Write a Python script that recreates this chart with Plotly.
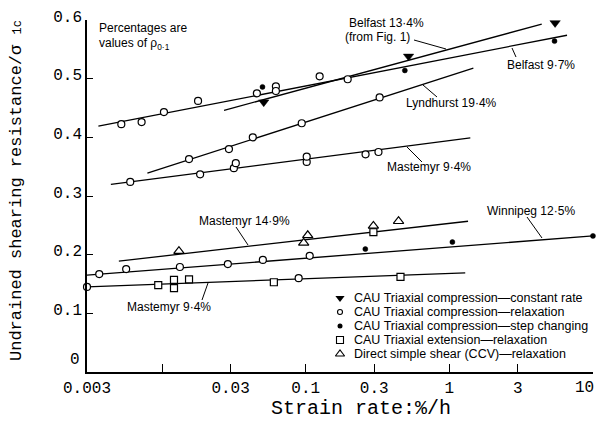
import plotly.graph_objects as go

# ---------------- data ----------------
# fitted lines: start/end strain rate (%/h) and resistance ratio
line_names = ["Belfast 9·7%", "Belfast 13·4%", "Lyndhurst 19·4%", "Mastemyr 9·4% (upper)",
              "Mastemyr 14·9%", "Winnipeg 12·5%", "Mastemyr 9·4% (lower)"]
line_x0 = [0.0036, 0.027, 0.0079, 0.0044, 0.0050, 0.003, 0.003]
line_y0 = [0.419, 0.446, 0.339, 0.320, 0.189, 0.165, 0.145]
line_x1 = [6.6, 4.4, 1.47, 1.40, 1.35, 10.0, 1.29]
line_y1 = [0.574, 0.593, 0.518, 0.399, 0.257, 0.232, 0.169]

# CAU triaxial compression - constant rate
tc_const_x = [0.051, 0.52, 5.45]
tc_const_y = [0.460, 0.538, 0.595]

# CAU triaxial compression - relaxation
tc_relax_x = [0.0052, 0.0072, 0.0103, 0.0178, 0.0457, 0.062, 0.062, 0.125, 0.196,
              0.0154, 0.0292, 0.0428, 0.0938, 0.327,
              0.0060, 0.0184, 0.0316, 0.0326, 0.1016, 0.1016, 0.261, 0.321,
              0.00365, 0.00562, 0.0133, 0.0287, 0.0503, 0.1066,
              0.003, 0.0893]
tc_relax_y = [0.4225, 0.426, 0.443, 0.462, 0.475, 0.487, 0.479, 0.504, 0.499,
              0.363, 0.380, 0.400, 0.424, 0.468,
              0.324, 0.337, 0.3475, 0.356, 0.358, 0.367, 0.371, 0.375,
              0.167, 0.1755, 0.179, 0.184, 0.191, 0.198,
              0.145, 0.160]

# CAU triaxial compression - step changing
tc_step_x = [0.050, 0.49, 5.4, 0.26, 1.05, 10.0]
tc_step_y = [0.486, 0.514, 0.564, 0.2095, 0.2215, 0.232]

# CAU triaxial extension - relaxation
te_relax_x = [0.0094, 0.0121, 0.0121, 0.0154, 0.060, 0.296, 0.457]
te_relax_y = [0.148, 0.157, 0.143, 0.158, 0.153, 0.2385, 0.162]

# Direct simple shear (CCV) - relaxation
dss_x = [0.0131, 0.0968, 0.1033, 0.296, 0.443]
dss_y = [0.206, 0.220, 0.233, 0.249, 0.257]

x_tick_vals = [0.003, 0.03, 0.1, 0.3, 1, 3]
x_tick_text = ["0.003", "0.03", "0.1", "0.3", "1", "3"]
x_minor_vals = [0.01, 10]
x_end_label = "10"
y_tick_vals = [0.1, 0.2, 0.3, 0.4, 0.5, 0.6]
y_tick_text = ["0.1", "0.2", "0.3", "0.4", "0.5", "0.6"]
y_zero_label = "0"

legend_labels = ["CAU Triaxial compression—constant rate",
                 "CAU Triaxial compression—relaxation",
                 "CAU Triaxial compression—step changing",
                 "CAU Triaxial extension—relaxation",
                 "Direct simple shear (CCV)—relaxation"]

# ---------------- layout helpers ----------------
W, H = 596, 422
L, R, T, B = 87, 3, 20, 50
PW, PH = W - L - R, H - T - B
def px(xp): return (xp - L) / PW
def py(yp): return (H - B - yp) / PH

SANS = "Liberation Sans, Arial, sans-serif"
MONO = "Liberation Mono, DejaVu Sans Mono, monospace"

fig = go.Figure()

for i in range(len(line_names)):
    fig.add_trace(go.Scatter(x=[line_x0[i], line_x1[i]], y=[line_y0[i], line_y1[i]],
                             mode="lines", line=dict(color="black", width=1.3),
                             showlegend=False, hoverinfo="skip", cliponaxis=False))

mk = dict(
    const=dict(symbol="triangle-down", size=9, color="black", line=dict(color="black", width=0.5)),
    relax=dict(symbol="circle", size=7, color="white", line=dict(color="black", width=1.2)),
    step=dict(symbol="circle", size=5, color="black", line=dict(color="black", width=0.5)),
    ext=dict(symbol="square", size=7, color="white", line=dict(color="black", width=1.2)),
    dss=dict(symbol="triangle-up", size=9, color="white", line=dict(color="black", width=1.2)),
)
for (xs, ys, m) in [(te_relax_x, te_relax_y, mk["ext"]), (dss_x, dss_y, mk["dss"]),
                    (tc_relax_x, tc_relax_y, mk["relax"]), (tc_const_x, tc_const_y, mk["const"]),
                    (tc_step_x, tc_step_y, mk["step"])]:
    fig.add_trace(go.Scatter(x=xs, y=ys, mode="markers", marker=m, cliponaxis=False,
                             showlegend=False))

# manual legend (symbols on an overlay axis in paper-like units)
leg_rows = [298, 312, 326, 340, 354]
leg_markers = [
    dict(symbol="triangle-down", size=8, color="black"),
    dict(symbol="circle", size=5, color="white", line=dict(color="black", width=1.1)),
    dict(symbol="circle", size=5, color="black"),
    dict(symbol="square", size=7, color="white", line=dict(color="black", width=1.1)),
    dict(symbol="triangle-up", size=8, color="white", line=dict(color="black", width=1.1)),
]
for r, m, lab in zip(leg_rows, leg_markers, legend_labels):
    fig.add_trace(go.Scatter(x=[px(340)], y=[py(r)], xaxis="x2", yaxis="y2", mode="markers",
                             marker=m, cliponaxis=False, showlegend=False, name=lab))

ann = []
def text(t, xl, yc, size=12, anchor="left", font=SANS, angle=0):
    ann.append(dict(text=t, x=px(xl), y=py(yc), xref="paper", yref="paper",
                    xanchor=anchor, yanchor="middle", showarrow=False, textangle=angle,
                    font=dict(family=font, size=size, color="black")))

text("Percentages are", 97, 28)
text("values of ρ<sub>0·1</sub>", 97, 44)
text("Belfast 13·4%", 347, 23)
text("(from Fig. 1)", 343, 37)
text("Belfast 9·7%", 505, 65)
text("Lyndhurst 19·4%", 404, 103)
text("Mastemyr 9·4%", 385, 167)
text("Mastemyr 14·9%", 197, 221)
text("Mastemyr 9·4%", 125, 307)
text("Winnipeg 12·5%", 485, 211)
for r, lab in zip(leg_rows, legend_labels):
    text(lab, 352, r, size=12.5)
text("Undrained shearing resistance/σ <span style='font-size:12px'>1c</span>", 16, 191,
     size=17, anchor="center", font=MONO, angle=-90)
text("Strain rate:%/h", 361, 408, size=20, anchor="center", font=MONO)
text(y_zero_label, 82, 360, size=16, anchor="right", font=MONO)
text(x_end_label, 596, 388, size=16, anchor="right", font=MONO)

leaders = [((414, 40), (446, 49)), ((512, 48), (516, 57)), ((423, 85), (437, 97)),
           ((407, 147), (422, 162)), ((236, 227), (248, 245)), ((208, 283), (202, 300)),
           ((527, 217), (542, 238))]
shapes = [dict(type="line", xref="paper", yref="paper", x0=px(a[0]), y0=py(a[1]),
               x1=px(b[0]), y1=py(b[1]), line=dict(color="black", width=1))
          for a, b in leaders]

fig.update_layout(
    template="none", width=W, height=H,
    margin=dict(l=L, r=R, t=T, b=B, autoexpand=False),
    paper_bgcolor="white", plot_bgcolor="white",
    showlegend=False, annotations=ann, shapes=shapes,
    xaxis=dict(type="log", range=[-2.5229, 1.0003], tickvals=x_tick_vals, ticktext=x_tick_text,
               ticks="inside", ticklen=8, tickwidth=1.2, tickcolor="black",
               minor=dict(tickvals=x_minor_vals, ticks="inside", ticklen=8, tickwidth=1.2,
                          tickcolor="black", showgrid=False),
               showline=True, linecolor="black", linewidth=1.5, showgrid=False,
               zeroline=False, mirror=False, automargin=False, ticklabeloverflow="allow",
               tickfont=dict(family=MONO, size=16, color="black")),
    yaxis=dict(range=[0, 0.6], tickvals=y_tick_vals, ticktext=y_tick_text,
               ticks="inside", ticklen=6, tickwidth=1.2, tickcolor="black",
               showline=True, linecolor="black", linewidth=1.5, showgrid=False,
               zeroline=False, mirror=False, automargin=False, ticklabelshift=-4,
               ticklabeloverflow="allow",
               tickfont=dict(family=MONO, size=16, color="black")),
    xaxis2=dict(range=[0, 1], overlaying="x", anchor="y2", visible=False),
    yaxis2=dict(range=[0, 1], overlaying="y", anchor="x2", visible=False),
)

fig.write_html("out.html")
